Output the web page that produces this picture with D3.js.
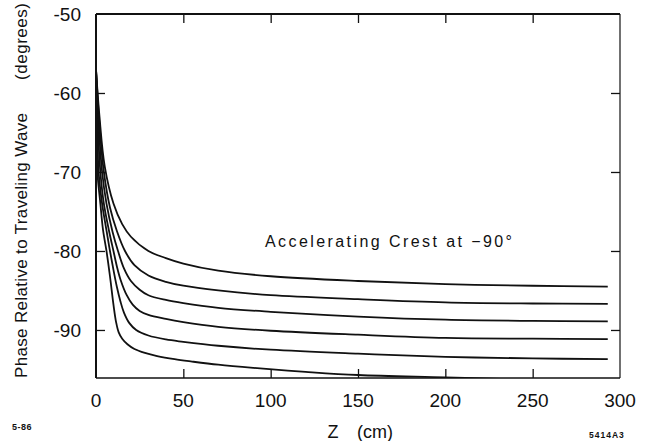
<!DOCTYPE html>
<html><head><meta charset="utf-8">
<script src="https://cdn.jsdelivr.net/npm/d3@7/dist/d3.min.js"></script>
<style>body{margin:0;background:#fff}svg{display:block}text{font-family:"Liberation Sans",Arial,sans-serif;fill:#111}</style>
</head><body><svg id="c" width="651" height="441"></svg>
<script>
// Data: z (cm) and phase (degrees)
const xTicks = [0, 50, 100, 150, 200, 250, 300];
const yTicks = [-50, -60, -70, -80, -90];
const curve1 = [[0,-57],[2,-63],[5,-69.3],[10,-74.0],[15,-76.6],[20,-78.2],[30,-80.0],[40,-80.9],[50,-81.6],[70,-82.5],[100,-83.2],[150,-83.8],[200,-84.2],[250,-84.4],[293,-84.5]];
const curve2 = [[0,-57],[2,-64],[4.5,-70],[8,-74.5],[12,-77.5],[16.6,-80],[22,-81.8],[30,-83.1],[40,-83.9],[50,-84.4],[70,-85.0],[100,-85.6],[150,-86.1],[200,-86.5],[250,-86.65],[293,-86.7]];
const curve3 = [[0,-57],[1.5,-64],[3.5,-70],[6,-74],[9.5,-77.6],[12.6,-80],[16,-82.2],[20,-83.8],[25,-84.9],[30,-85.6],[40,-86.2],[50,-86.6],[70,-87.2],[100,-87.7],[150,-88.3],[200,-88.7],[250,-88.85],[293,-88.9]];
const curve4 = [[0,-57],[1,-64],[2.5,-70],[4.5,-74],[7.5,-77.5],[10,-80],[12,-82],[14,-83.6],[17.6,-85.6],[21,-86.8],[25,-87.6],[30,-88.1],[40,-88.6],[50,-89.0],[70,-89.6],[100,-90.1],[150,-90.6],[200,-91.0],[250,-91.1],[293,-91.15]];
const curve5 = [[0,-57],[0.7,-64],[1.5,-70],[3.5,-74],[6,-77.4],[8,-80],[10,-82.4],[12,-84.6],[14,-86.4],[16,-87.8],[19,-89.1],[23,-90.0],[30,-90.7],[40,-91.2],[50,-91.5],[70,-92.0],[100,-92.5],[150,-93.0],[200,-93.4],[250,-93.6],[293,-93.7]];
const curve6 = [[0,-57],[0.4,-64],[0.8,-70],[2.5,-74],[4,-77.3],[6,-80],[8,-83.2],[10,-86.8],[11.5,-89.0],[13,-90.3],[15,-91.1],[18,-91.8],[22,-92.4],[28,-92.9],[35,-93.3],[45,-93.7],[55,-94.0],[70,-94.4],[90,-94.8],[120,-95.3],[150,-95.7],[200,-96.0],[250,-96.3],[293,-96.5]];
const curves = [curve1, curve2, curve3, curve4, curve5, curve6];

const svg = d3.select("#c");
const x = d3.scaleLinear().domain([0, 300]).range([96, 620]);
const y = d3.scaleLinear().domain([-96.08, -50]).range([378, 14]);

svg.append("defs").append("clipPath").attr("id","clip").append("rect")
  .attr("x", x(0)).attr("y", y(-50)).attr("width", x(300)-x(0)).attr("height", y(-96.08)-y(-50));

// curves
const line = d3.line().x(d=>x(d[0])).y(d=>y(d[1])).curve(d3.curveCatmullRom.alpha(0.5));
svg.append("g").attr("clip-path","url(#clip)").selectAll("path").data(curves).join("path")
  .attr("d", line).attr("fill","none").attr("stroke","#111").attr("stroke-width",1.8);

// axes with inward ticks, no labels
const tickLen = 9;
svg.append("g").attr("transform",`translate(0,${y(-96.08)})`)
  .call(d3.axisTop(x).tickValues(xTicks.slice(1,-1)).tickSize(tickLen).tickFormat(""));
svg.append("g").attr("transform",`translate(0,${y(-50)})`)
  .call(d3.axisBottom(x).tickValues(xTicks.slice(1,-1)).tickSize(tickLen).tickFormat(""));
svg.append("g").attr("transform",`translate(${x(0)},0)`)
  .call(d3.axisRight(y).tickValues(yTicks.slice(1)).tickSize(tickLen).tickFormat(""));
svg.append("g").attr("transform",`translate(${x(300)},0)`)
  .call(d3.axisLeft(y).tickValues(yTicks.slice(1)).tickSize(tickLen).tickFormat(""));
svg.selectAll(".domain").remove();
svg.selectAll(".tick line").attr("stroke","#111").attr("stroke-width",1.3);

// frame
const fr = svg.append("g").attr("stroke","#111").attr("fill","none");
fr.append("line").attr("x1",x(0)).attr("x2",x(300)).attr("y1",y(-50)).attr("y2",y(-50)).attr("stroke-width",2.2);
fr.append("line").attr("x1",x(0)).attr("x2",x(0)).attr("y1",y(-50)).attr("y2",y(-96.08)).attr("stroke-width",2);
fr.append("line").attr("x1",x(300)).attr("x2",x(300)).attr("y1",y(-50)).attr("y2",y(-96.08)).attr("stroke-width",1.2);
fr.append("line").attr("x1",x(0)).attr("x2",x(300)).attr("y1",y(-96.08)).attr("y2",y(-96.08)).attr("stroke-width",1.6);

// tick labels
svg.append("g").selectAll("text").data(xTicks).join("text")
  .attr("x", d=>x(d)).attr("y", 407).attr("text-anchor","middle")
  .attr("font-size",19).text(d=>d);
svg.append("g").selectAll("text").data(yTicks).join("text")
  .attr("x", 81).attr("y", d=>y(d)+7).attr("text-anchor","end")
  .attr("font-size",19).text(d=>d);

// axis titles
svg.append("text").attr("x",333).attr("y",438).attr("font-size",18).attr("text-anchor","middle").text("Z");
svg.append("text").attr("x",357).attr("y",438).attr("font-size",18).text("(cm)");
svg.append("text").attr("transform","translate(27,378) rotate(-90)").attr("font-size",17)
  .attr("textLength",265).attr("lengthAdjust","spacing").text("Phase Relative to Traveling Wave");
svg.append("text").attr("transform","translate(27,80) rotate(-90)").attr("font-size",17)
  .attr("textLength",77).attr("lengthAdjust","spacing").text("(degrees)");

// annotation
svg.append("text").attr("x",265).attr("y",247).attr("font-size",16)
  .attr("textLength",247).attr("lengthAdjust","spacing").text("Accelerating Crest at −90°");

// figure ids
svg.append("text").attr("x",12).attr("y",430).attr("font-size",9).attr("font-weight","bold").attr("letter-spacing",0.5).text("5-86");
svg.append("text").attr("x",589).attr("y",438).attr("font-size",8.5).attr("font-weight","bold").attr("letter-spacing",1).text("5414A3");
</script></body></html>
